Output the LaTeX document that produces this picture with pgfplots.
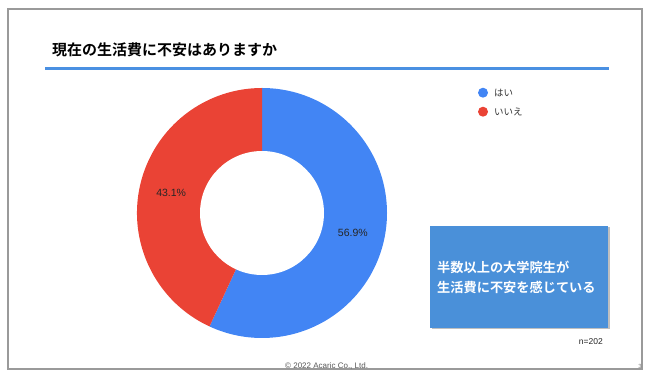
\documentclass[border=0pt]{standalone}
\usepackage{pgfplots}
\usepackage{pgfplotstable}
\pgfplotsset{compat=1.18}
\usepackage{fontspec}
\setmainfont{Liberation Sans}
\newfontfamily\jp{Noto Sans CJK JP}[BoldFont={Noto Sans CJK JP Bold}]
\definecolor{gblue}{HTML}{4285F4}
\definecolor{gred}{HTML}{EA4335}
\definecolor{boxblue}{HTML}{4A90D9}
\definecolor{lineblue}{HTML}{4A90E2}
\definecolor{frame}{HTML}{9A9A9A}
\pgfplotstableread{
idx value
0 56.9
1 43.1
}\donutdata
\begin{document}
\begin{tikzpicture}
\path (0pt,0pt) rectangle (650pt,382pt);
% frame
\draw[frame, line width=1.2pt] (8pt,13pt) rectangle (642pt,373pt);
% title
\node[anchor=west, inner sep=0pt] at (52pt,332.5pt) {\jp\bfseries\fontsize{15}{18}\selectfont 現在の生活費に不安はありますか};
\draw[lineblue, line width=3pt] (45pt,313pt) -- (609pt,313pt);
% values
\pgfplotstablegetelem{0}{value}\of\donutdata \let\va\pgfplotsretval
\pgfplotstablegetelem{1}{value}\of\donutdata \let\vb\pgfplotsretval
\pgfmathsetmacro\ea{90-3.6*\va}
\pgfmathsetmacro\ma{90-1.8*\va}
\pgfmathsetmacro\mb{\ea-1.8*\vb}
\begin{axis}[
  at={(262pt,169pt)}, anchor=center,
  width=250pt, height=250pt, scale only axis,
  xmin=-1, xmax=1, ymin=-1, ymax=1,
  hide axis, clip=false]
\fill[gblue] (axis cs:0,0) -- ++(90:125pt) arc[start angle=90, end angle=\ea, radius=125pt] -- cycle;
\fill[gred] (axis cs:0,0) -- ++(\ea:125pt) arc[start angle=\ea, end angle=-270, radius=125pt] -- cycle;
\fill[white] (axis cs:0,0) circle[radius=62pt];
\node[shift={(\ma:93pt)}, text=black!85, font=\fontsize{10.5}{12}\selectfont] at (axis cs:0,0) {\va\%};
\node[shift={(\mb:93pt)}, text=black!85, font=\fontsize{10.5}{12}\selectfont] at (axis cs:0,0) {\vb\%};
\end{axis}
% legend
\fill[gblue] (483pt,289.3pt) circle[radius=5pt];
\fill[gred] (483pt,270.3pt) circle[radius=5pt];
\node[anchor=west, inner sep=0pt, text=black!80] at (494pt,289.3pt) {\jp\fontsize{9.5}{11}\selectfont はい};
\node[anchor=west, inner sep=0pt, text=black!80] at (494pt,270.3pt) {\jp\fontsize{9.5}{11}\selectfont いいえ};
% box
\fill[black!25] (431.5pt,52.5pt) rectangle (609.5pt,154.5pt);
\fill[boxblue] (430pt,54pt) rectangle (608pt,156pt);
\node[anchor=west, inner sep=0pt, text=white] at (437pt,115pt) {\jp\bfseries\fontsize{13.2}{15}\selectfont 半数以上の大学院生が};
\node[anchor=west, inner sep=0pt, text=white] at (437pt,95pt) {\jp\bfseries\fontsize{13.2}{15}\selectfont 生活費に不安を感じている};
% n
\node[anchor=east, inner sep=0pt, text=black!85] at (603pt,40pt) {\fontsize{8.5}{10}\selectfont n=202};
% footer
\node[anchor=west, inner sep=0pt, text=black!65] at (285pt,16pt) {\fontsize{8}{10}\selectfont \textcopyright{} 2022 Acaric Co., Ltd.};
\node[inner sep=0pt, text=black!50] at (640pt,16pt) {\fontsize{6}{7}\selectfont 3};
\end{tikzpicture}
\end{document}
